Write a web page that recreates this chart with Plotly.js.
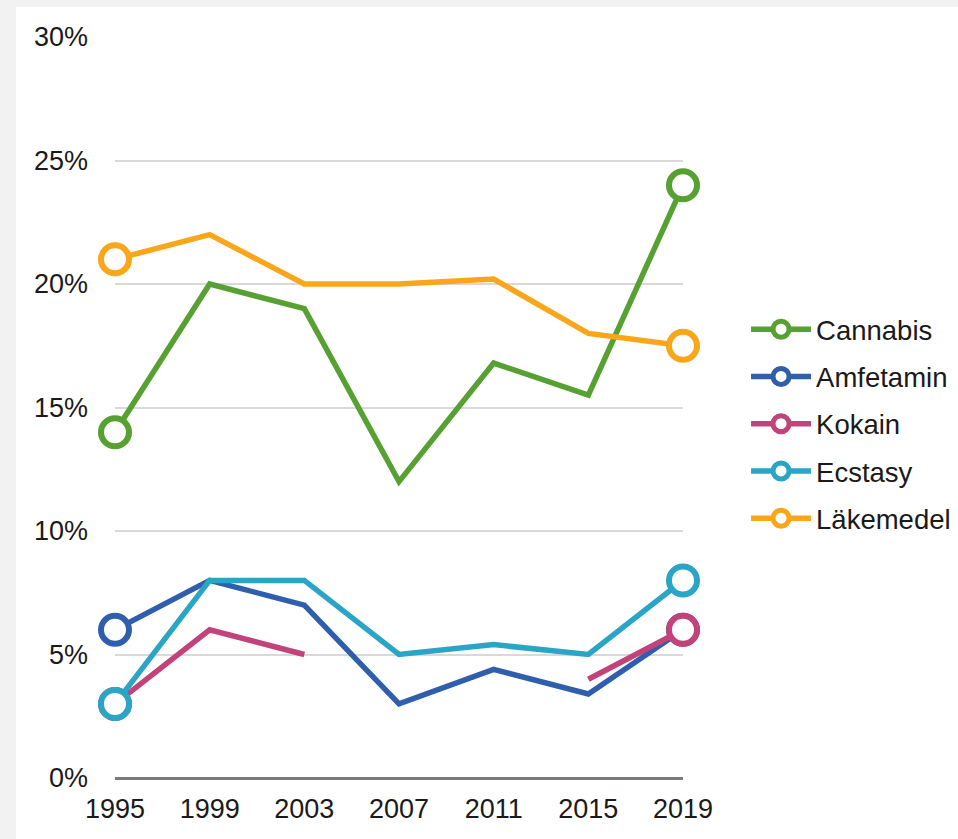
<!DOCTYPE html>
<html>
<head>
<meta charset="utf-8">
<script src="https://cdn.plot.ly/plotly-3.0.1.min.js"></script>
<style>
  html, body { margin: 0; padding: 0; background: #f2f2f2; width: 958px; height: 839px; overflow: hidden; }
  #chart { position: absolute; left: 16px; top: 7px; width: 942px; height: 832px; }
</style>
</head>
<body>
<div id="chart"></div>
<script>
const years = [1995, 1999, 2003, 2007, 2011, 2015, 2019];
const seriesNames = ["Cannabis", "Amfetamin", "Kokain", "Ecstasy", "Läkemedel"];
const cannabis  = [14, 20, 19, 12, 16.8, 15.5, 24];
const amfetamin = [6, 8, 7, 3, 4.4, 3.4, 6];
const kokain    = [3, 6, 5, null, null, 4, 6];
const ecstasy   = [3, 8, 8, 5, 5.4, 5, 8];
const lakemedel = [21, 22, 20, 20, 20.2, 18, 17.5];
const yTickVals = [0, 5, 10, 15, 20, 25, 30];
const yTickText = ["0%", "5%", "10%", "15%", "20%", "25%", "30%"];

const colors = ["#57a133", "#2e5eac", "#c2427a", "#2ba5c6", "#faa61a"];
const allValues = [cannabis, amfetamin, kokain, ecstasy, lakemedel];

const endPoints = [0, years.length - 1];

const traces = allValues.map((vals, k) => ({
  x: years,
  y: vals,
  name: seriesNames[k],
  type: "scatter",
  mode: "lines+markers",
  cliponaxis: false,
  line: { color: colors[k], width: 5.5 },
  marker: {
    symbol: "circle",
    size: 28,
    opacity: 1,
    color: "#ffffff",
    line: { color: colors[k], width: 6 }
  },
  selectedpoints: endPoints,
  selected: { marker: { opacity: 1 } },
  unselected: { marker: { opacity: 0 } },
  legendgroup: seriesNames[k],
  hoverinfo: "skip"
}));

const layout = {
  width: 942,
  height: 832,
  paper_bgcolor: "#ffffff",
  plot_bgcolor: "#ffffff",
  margin: { l: 99, r: 275, t: 30, b: 61 },
  font: { family: "Liberation Sans, Arial, sans-serif", size: 27, color: "#1a1a1a" },
  showlegend: true,
  legend: {
    xref: "container", yref: "container",
    x: 0.775, xanchor: "left",
    y: 0.642, yanchor: "top",
    font: { size: 27.5, color: "#1a1a1a" },
    traceorder: "grouped",
    tracegroupgap: 8.5,
    itemwidth: 60,
    bgcolor: "rgba(0,0,0,0)"
  },
  xaxis: {
    range: [1995, 2019],
    tickvals: years,
    ticktext: years.map(String),
    showgrid: false,
    zeroline: false,
    showline: false,
    ticks: "",
    ticklabelstandoff: 12,
    fixedrange: true
  },
  yaxis: {
    range: [0, 30],
    tickvals: yTickVals,
    ticktext: yTickText,
    showgrid: true,
    gridcolor: "#d9d9d9",
    gridwidth: 2,
    zeroline: true,
    zerolinecolor: "#7a7a7a",
    zerolinewidth: 3,
    showline: false,
    ticks: "",
    ticklabelstandoff: 26,
    fixedrange: true
  }
};

Plotly.newPlot("chart", traces, layout, { displayModeBar: false, staticPlot: true });
</script>
</body>
</html>
